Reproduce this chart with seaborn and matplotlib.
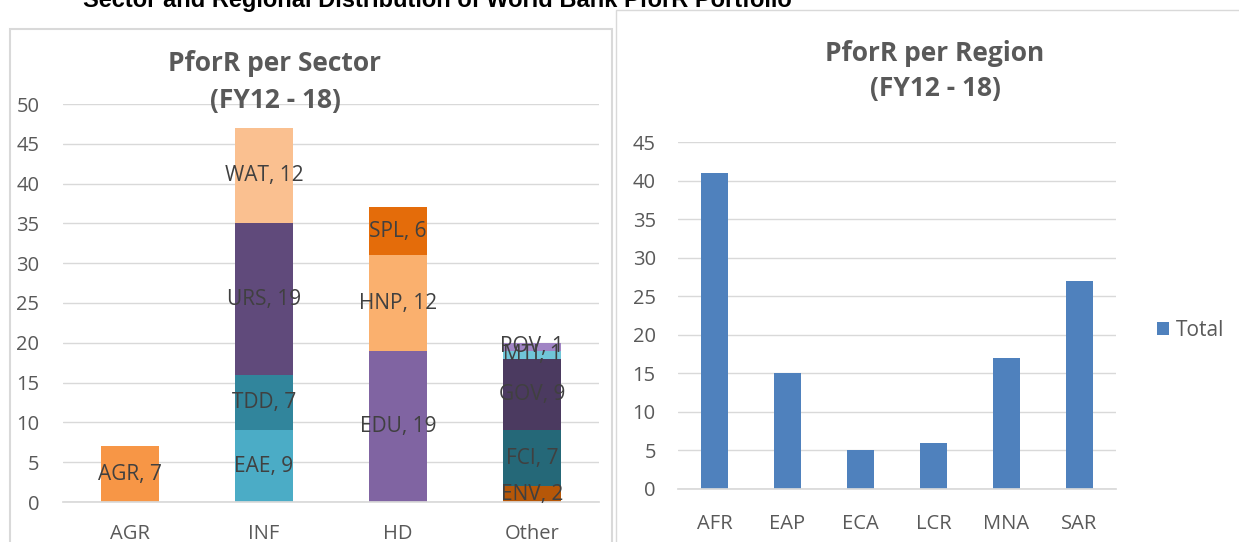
import matplotlib
matplotlib.use("Agg")
import matplotlib.pyplot as plt
import seaborn as sns
import pandas as pd
import numpy as np
from matplotlib.patches import Rectangle

# ---- data ----
sector_order = ["AGR", "INF", "HD", "Other"]
seg_sector = ["AGR", "INF", "INF", "INF", "INF", "HD", "HD", "HD", "Other", "Other", "Other", "Other", "Other"]
seg_names = ["AGR", "EAE", "TDD", "URS", "WAT", "EDU", "HNP", "SPL", "ENV", "FCI", "GOV", "MTI", "POV"]
seg_values = [7, 9, 7, 19, 12, 19, 12, 6, 2, 7, 9, 1, 1]
seg_colors = ["#F79646", "#4BACC6", "#31859C", "#604A7B", "#FAC090", "#8064A2",
              "#FAB06E", "#E46C0A", "#B65708", "#256878", "#4B3A60", "#70C6D8", "#A084C4"]

regions = ["AFR", "EAP", "ECA", "LCR", "MNA", "SAR"]
region_totals = [41, 15, 5, 6, 17, 27]

sns.set_theme(style="white")
plt.rcParams["font.family"] = ["Open Sans", "DejaVu Sans"]

W, H = 1239, 542
fig = plt.figure(figsize=(W / 100, H / 100), dpi=100)

def px_axes(x0, x1, ytop, ybot):
    return fig.add_axes([x0 / W, 1 - ybot / H, (x1 - x0) / W, (ybot - ytop) / H])

# panel borders
fig.patches.append(Rectangle((10 / W, -0.05), (612 - 10) / W, 1 - 29 / H + 0.05,
                             transform=fig.transFigure, fill=False, edgecolor="#D9D9D9", lw=1.5))
fig.patches.append(Rectangle((616 / W, -0.05), 1.05 - 616 / W, 1 - 10 / H + 0.05,
                             transform=fig.transFigure, fill=False, edgecolor="#D9D9D9", lw=1.0))

tick_color = "#595959"
grid_color = "#D9D9D9"
FS = 14.5

# ---- left: stacked sector bars ----
ax1 = px_axes(63, 599, 104, 502)
df = pd.DataFrame({"sector": seg_sector, "seg": seg_names, "value": seg_values})
df["bottom"] = df.groupby("sector")["value"].cumsum() - df["value"]
for i, row in df.iterrows():
    sub = pd.DataFrame({"sector": [row["sector"]], "value": [row["value"]]})
    sns.barplot(data=sub, x="sector", y="value", order=sector_order, ax=ax1,
                color=seg_colors[i], bottom=row["bottom"], width=0.43,
                saturation=1, errorbar=None, linewidth=0)
    xi = sector_order.index(row["sector"])
    ax1.text(xi, row["bottom"] + row["value"] / 2, f"{row['seg']}, {row['value']}",
             ha="center", va="center", fontsize=15, color="#404040")
ax1.set_ylim(0, 50)
ax1.set_xlim(-0.5, 3.5)
ax1.set_yticks(np.arange(0, 51, 5))
ax1.yaxis.grid(True, color=grid_color, lw=1)
ax1.set_axisbelow(True)
for s in ["top", "right", "left"]:
    ax1.spines[s].set_visible(False)
ax1.spines["bottom"].set_color(grid_color)
ax1.set_xlabel("")
ax1.set_ylabel("")
ax1.tick_params(axis="both", length=0, labelsize=FS, colors=tick_color)
ax1.tick_params(axis="y", pad=17)
ax1.tick_params(axis="x", pad=16)
fig.text(275 / W, 1 - 82 / H, "PforR per Sector\n(FY12 - 18)", ha="center", va="center",
         fontsize=19, fontweight="bold", color="#595959", linespacing=1.5)

# ---- right: region bars ----
ax2 = px_axes(678, 1116, 142, 489)
rdf = pd.DataFrame({"region": regions, "Total": region_totals})
sns.barplot(data=rdf, x="region", y="Total", order=regions, ax=ax2, color="#4F81BD",
            width=0.37, saturation=1, errorbar=None, linewidth=0, label="Total")
ax2.set_ylim(0, 45)
ax2.set_xlim(-0.5, 5.5)
ax2.set_yticks(np.arange(0, 46, 5))
ax2.yaxis.grid(True, color=grid_color, lw=1)
ax2.set_axisbelow(True)
for s in ["top", "right", "left"]:
    ax2.spines[s].set_visible(False)
ax2.spines["bottom"].set_color(grid_color)
ax2.set_xlabel("")
ax2.set_ylabel("")
ax2.tick_params(axis="both", length=0, labelsize=FS, colors=tick_color)
ax2.tick_params(axis="y", pad=16)
ax2.tick_params(axis="x", pad=18)
leg = ax2.legend(loc="center left", bbox_to_anchor=(1138 / W, 1 - 330 / H),
                 bbox_transform=fig.transFigure, frameon=False, fontsize=15,
                 handlelength=0.6, handleheight=0.6, handletextpad=0.3)
for t in leg.get_texts():
    t.set_color(tick_color)
fig.text(935 / W, 1 - 71 / H, "PforR per Region\n(FY12 - 18)", ha="center", va="center",
         fontsize=19, fontweight="bold", color="#595959", linespacing=1.4)

# truncated page caption at top
fig.text(437 / W, 1 - 7 / H, "Sector and Regional Distribution of World Bank PforR Portfolio",
         ha="center", va="baseline", fontsize=17, fontweight="bold", color="black",
         family="Liberation Sans")

fig.savefig("out.png", dpi=100)
